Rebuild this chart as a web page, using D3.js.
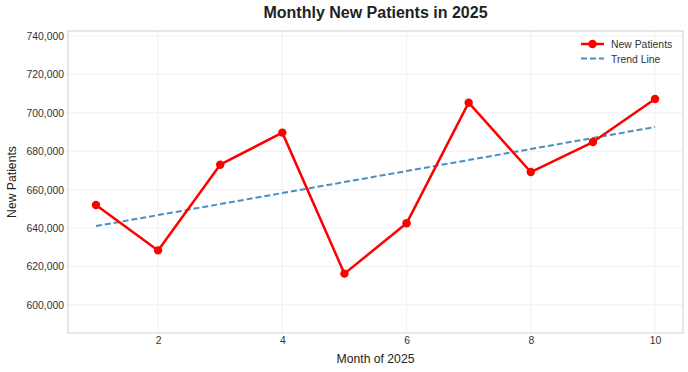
<!DOCTYPE html>
<html><head><meta charset="utf-8">
<script src="https://cdn.jsdelivr.net/npm/d3@7"></script>
<style>body{margin:0;background:#fff;} text{font-family:"Liberation Sans",Arial,sans-serif;}</style>
</head><body><svg id="c" width="688" height="372"></svg>
<script>
const months = [1,2,3,4,5,6,7,8,9,10];
const patients = [652000,628400,673000,689700,616300,642500,705300,669200,684800,707200];
const yTicks = [600000,620000,640000,660000,680000,700000,720000,740000];
const xTicks = [2,4,6,8,10];
const seriesNames = ["New Patients","Trend Line"];

const W=688,H=372, m={l:68,r:5,t:31,b:39};
const svg=d3.select("#c");
const x=d3.scaleLinear().domain([0.55,10.45]).range([m.l,W-m.r]);
const y=d3.scaleLinear().domain([585400,742600]).range([H-m.b,m.t]);

// grid
svg.append("g").selectAll("line").data(yTicks).join("line")
 .attr("x1",m.l).attr("x2",W-m.r).attr("y1",d=>y(d)).attr("y2",d=>y(d))
 .attr("stroke","#ececec").attr("stroke-width",0.8);
svg.append("g").selectAll("line").data(xTicks).join("line")
 .attr("y1",m.t).attr("y2",H-m.b).attr("x1",d=>x(d)).attr("x2",d=>x(d))
 .attr("stroke","#ececec").attr("stroke-width",0.8);
svg.append("rect").attr("x",m.l).attr("y",m.t).attr("width",W-m.l-m.r).attr("height",H-m.t-m.b)
 .attr("fill","none").attr("stroke","#d0d0d0").attr("stroke-width",1);

// axes
const fmt=d3.format(",");
const ya=svg.append("g").attr("transform",`translate(${m.l},0)`)
 .call(d3.axisLeft(y).tickValues(yTicks).tickFormat(fmt).tickSize(0).tickPadding(4));
ya.select(".domain").remove();
ya.selectAll("text").attr("font-size",10.4).attr("fill","#333").style("font-family","Liberation Sans, Arial, sans-serif");
const xa=svg.append("g").attr("transform",`translate(0,${H-m.b})`)
 .call(d3.axisBottom(x).tickValues(xTicks).tickSize(0).tickPadding(3.5));
xa.select(".domain").remove();
xa.selectAll("text").attr("font-size",10.4).attr("fill","#333").style("font-family","Liberation Sans, Arial, sans-serif");

// trend (least squares from data)
const mx=d3.mean(months), my=d3.mean(patients);
const slope=d3.sum(months,(d,i)=>(d-mx)*(patients[i]-my))/d3.sum(months,d=>(d-mx)**2);
const icpt=my-slope*mx;
const trend=months.map(d=>icpt+slope*d);
const line=d3.line().x((d,i)=>x(months[i])).y(d=>y(d));
svg.append("path").datum(trend).attr("d",line).attr("fill","none")
 .attr("stroke","#4a8fc4").attr("stroke-width",2).attr("stroke-dasharray","6,3");

svg.append("path").datum(patients).attr("d",line).attr("fill","none")
 .attr("stroke","#ff0000").attr("stroke-width",2.5).attr("stroke-linejoin","round");
svg.append("g").selectAll("circle").data(patients).join("circle")
 .attr("cx",(d,i)=>x(months[i])).attr("cy",d=>y(d)).attr("r",4.2).attr("fill","#ff0000");

// title & labels
svg.append("text").attr("x",(m.l+W-m.r)/2).attr("y",18).attr("text-anchor","middle")
 .attr("font-size",16).attr("font-weight","bold").attr("fill","#222").text("Monthly New Patients in 2025");
svg.append("text").attr("x",(m.l+W-m.r)/2).attr("y",363).attr("text-anchor","middle")
 .attr("font-size",12.2).attr("fill","#222").text("Month of 2025");
svg.append("text").attr("transform",`translate(16,${(m.t+H-m.b)/2}) rotate(-90)`).attr("text-anchor","middle")
 .attr("font-size",12.2).attr("fill","#222").text("New Patients");

// legend
const lg=svg.append("g");
lg.append("line").attr("x1",581).attr("x2",604).attr("y1",44).attr("y2",44).attr("stroke","#ff0000").attr("stroke-width",2.5);
lg.append("circle").attr("cx",592.5).attr("cy",44).attr("r",4.2).attr("fill","#ff0000");
lg.append("line").attr("x1",581).attr("x2",604).attr("y1",58.5).attr("y2",58.5).attr("stroke","#4a8fc4").attr("stroke-width",2).attr("stroke-dasharray","6,3");
lg.selectAll("text").data(seriesNames).join("text").attr("x",611).attr("y",(d,i)=>48+i*14.5)
 .attr("font-size",10.4).attr("fill","#333").text(d=>d);
</script></body></html>
